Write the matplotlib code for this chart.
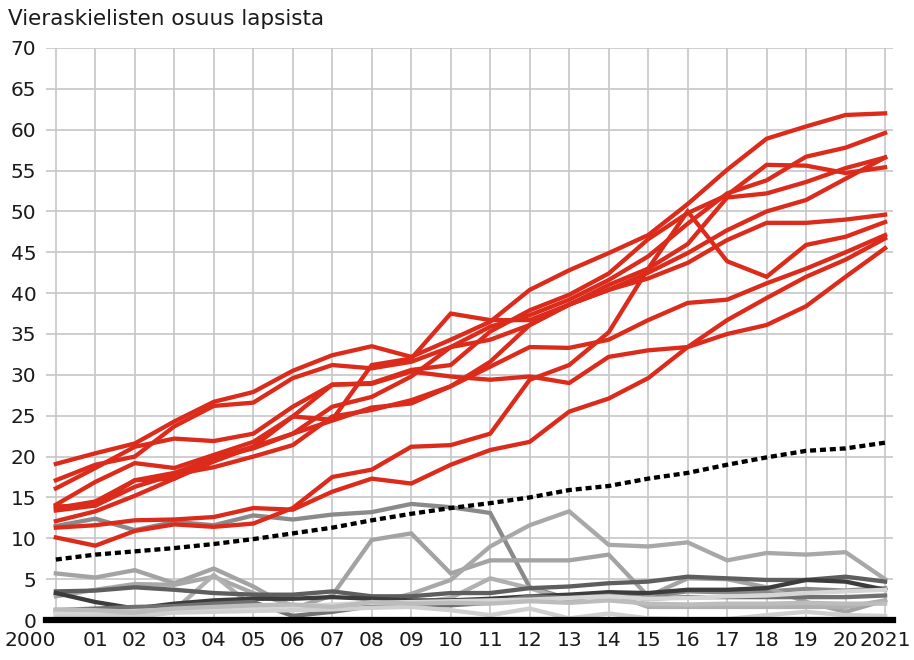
import matplotlib
matplotlib.use('Agg')
import matplotlib.pyplot as plt
import numpy as np

plt.rcParams['font.family'] = ['DejaVu Sans']

years = list(range(2000, 2022))
year_labels = ['2000'] + [f'{y % 100:02d}' for y in years[1:-1]] + ['2021']

# punaiset viivat (vieraskielisten osuus, %)
red_lines = [
    [19.1, 20.4, 21.6, 24.3, 26.7, 27.9, 30.5, 32.4, 33.5, 32.2, 34.3, 36.5, 40.4, 42.8, 44.9, 47.1, 50.9, 55.1, 58.9, 60.4, 61.8, 62.0],
    [17.1, 19.0, 20.0, 23.7, 26.2, 26.6, 29.6, 31.2, 30.8, 31.6, 33.4, 35.9, 37.3, 39.2, 41.6, 44.5, 48.5, 52.2, 53.8, 56.7, 57.8, 59.6],
    [16.1, 18.6, 21.2, 22.2, 21.9, 22.8, 26.1, 28.8, 29.0, 30.6, 31.2, 35.3, 37.9, 39.8, 42.4, 46.6, 49.8, 52.0, 55.7, 55.6, 54.7, 55.4],
    [14.1, 16.9, 19.2, 18.6, 20.2, 21.8, 24.9, 24.5, 31.2, 32.0, 37.5, 36.7, 36.7, 38.6, 41.0, 43.0, 46.0, 51.7, 52.2, 53.6, 55.3, 56.6],
    [13.7, 14.5, 17.1, 17.3, 19.8, 21.2, 22.8, 26.1, 27.3, 29.8, 33.4, 34.3, 36.1, 38.6, 40.4, 42.5, 44.9, 47.7, 50.0, 51.4, 54.0, 56.6],
    [13.4, 14.0, 16.3, 17.8, 18.7, 20.0, 21.4, 24.9, 25.7, 26.9, 28.6, 31.6, 36.1, 38.6, 40.4, 41.8, 43.7, 46.5, 48.6, 48.6, 49.0, 49.6],
    [12.1, 13.3, 15.2, 17.3, 19.4, 21.2, 24.9, 28.8, 28.9, 30.4, 29.8, 29.4, 29.8, 29.0, 32.2, 33.0, 33.4, 35.0, 36.1, 38.4, 42.0, 45.5],
    [13.9, 14.0, 17.1, 18.0, 19.8, 21.0, 22.8, 24.4, 26.0, 26.5, 28.6, 31.0, 33.4, 33.3, 34.3, 36.7, 38.8, 39.2, 41.2, 43.0, 45.0, 47.1],
    [11.3, 11.6, 12.2, 12.3, 12.6, 13.7, 13.5, 15.7, 17.3, 16.7, 19.0, 20.8, 21.8, 25.5, 27.1, 29.6, 33.4, 36.7, 39.4, 42.0, 44.1, 46.7],
    [10.1, 9.1, 10.9, 11.7, 11.4, 11.8, 13.7, 17.5, 18.4, 21.2, 21.4, 22.8, 29.4, 31.2, 35.2, 43.0, 50.0, 43.9, 42.0, 45.9, 46.9, 48.7],
]

# koko maa (katkoviiva)
avg_line = [7.4, 8.0, 8.4, 8.8, 9.3, 9.9, 10.6, 11.3, 12.2, 13.0, 13.7, 14.3, 15.0, 15.9, 16.4, 17.3, 18.0, 19.0, 19.9, 20.7, 21.0, 21.7]

# harmaat viivat
grey_lines = [
    [11.5, 12.4, 11.0, 12.0, 11.6, 12.8, 12.3, 12.9, 13.2, 14.2, 13.8, 13.1, 4.0, 2.6, 3.4, 2.9, 3.5, 3.4, 3.5, 3.8, 3.6, 3.9],
    [5.7, 5.2, 6.1, 4.5, 6.3, 4.1, 1.4, 3.0, 9.8, 10.6, 5.7, 7.3, 7.3, 7.3, 8.0, 2.9, 5.1, 5.0, 4.0, 2.2, 1.0, 2.4],
    [2.9, 3.7, 4.4, 4.3, 5.3, 3.3, 1.8, 1.5, 2.0, 3.2, 4.9, 9.0, 11.6, 13.3, 9.2, 9.0, 9.5, 7.3, 8.2, 8.0, 8.3, 5.0],
    [1.0, 0.8, 0.8, 1.2, 5.5, 1.6, 1.8, 1.5, 1.8, 2.0, 2.7, 5.1, 3.9, 2.4, 3.3, 1.6, 1.6, 1.6, 1.6, 1.6, 1.6, 2.4],
    [3.5, 3.6, 4.0, 3.7, 3.3, 3.1, 3.1, 3.5, 2.9, 2.9, 3.3, 3.3, 3.9, 4.1, 4.5, 4.7, 5.3, 5.1, 4.9, 4.9, 5.3, 4.7],
    [3.3, 2.2, 1.4, 2.0, 2.4, 2.6, 2.6, 2.8, 2.6, 2.4, 2.4, 2.6, 2.9, 3.1, 3.4, 3.3, 3.7, 3.7, 3.9, 4.9, 4.7, 3.7],
    [1.2, 1.4, 1.6, 1.7, 2.0, 2.2, 0.5, 1.0, 1.7, 1.8, 1.8, 2.1, 2.9, 2.7, 3.0, 2.6, 2.8, 2.8, 2.8, 2.8, 2.8, 3.0],
    [0.6, 0.5, 0.4, 0.9, 1.0, 1.1, 1.2, 1.3, 1.5, 1.6, 1.2, 0.6, 1.4, 0.2, 0.8, 0.2, 0.1, 0.1, 0.6, 1.0, 0.6, 0.5],
    [0.9, 1.0, 1.1, 1.3, 1.4, 1.5, 1.7, 1.9, 2.1, 2.2, 2.3, 2.4, 2.5, 2.7, 2.9, 2.6, 2.7, 2.9, 3.0, 3.3, 3.5, 3.7],
    [1.3, 1.2, 1.0, 1.4, 1.6, 1.8, 1.9, 1.6, 2.2, 2.0, 2.1, 2.0, 2.3, 2.1, 2.4, 2.0, 1.9, 2.0, 2.0, 2.1, 2.0, 2.0],
]
grey_colors = ['#8a8a8a', '#a3a3a3', '#a8a8a8', '#b0b0b0', '#5e5e5e',
               '#3c3c3c', '#717171', '#cfcfcf', '#d6d6d6', '#bcbcbc']

RED = '#dc2a1b'
LW = 3.1

fig = plt.figure(figsize=(9.14, 6.6), dpi=100)
ax = fig.add_axes([0.0503, 0.0606, 0.9267, 0.8667])

for vals, col in zip(grey_lines, grey_colors):
    ax.plot(years, vals, color=col, lw=LW, solid_joinstyle='miter', zorder=2)

ax.plot(years, avg_line, color='black', lw=LW, linestyle=(0, (1.4, 0.9)), zorder=3)

for vals in red_lines:
    ax.plot(years, vals, color=RED, lw=LW, solid_joinstyle='miter', zorder=4)

ax.axhline(0, color='black', lw=4.5, zorder=5, clip_on=False)

ax.set_xlim(1999.75, 2021.2)
ax.set_ylim(0, 70)
ax.set_xticks(years)
ax.set_xticklabels(year_labels)
ax.set_yticks(np.arange(0, 71, 5))
ax.tick_params(axis='both', length=0, labelsize=14.5, colors='#1a1a1a')
ax.tick_params(axis='x', pad=8)
ax.tick_params(axis='y', pad=7)
# ensimmäinen vuosiluku tasataan oikealle, kuten alkuperäisessä
first = ax.get_xticklabels()[0]
first.set_horizontalalignment('right')
first.set_x(2000)
for s in ax.spines.values():
    s.set_visible(False)
ax.grid(True, color='#c6c6c6', lw=1.2, zorder=0)
ax.set_axisbelow(True)

fig.text(8 / 914, 1 - 19 / 660, 'Vieraskielisten osuus lapsista', fontsize=15.5,
         color='#1a1a1a', va='center', ha='left')

fig.savefig('out.png', dpi=100)
